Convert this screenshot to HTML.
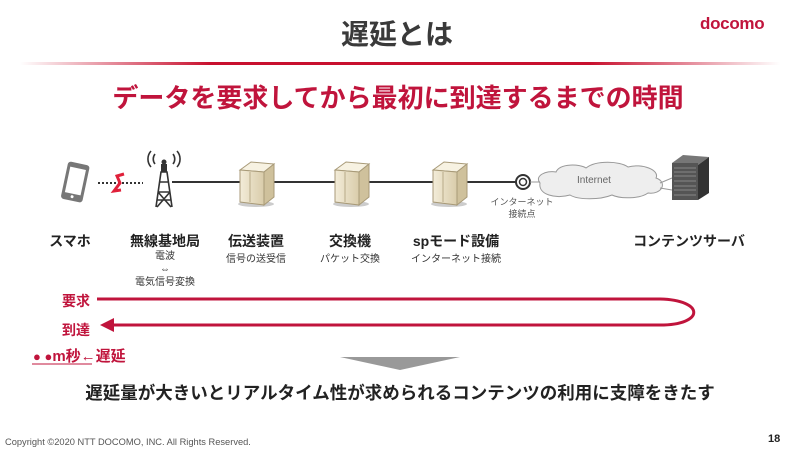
<!DOCTYPE html>
<html><head><meta charset="utf-8"><style>
html,body{margin:0;padding:0;background:#fff;}
body{width:800px;height:449px;overflow:hidden;position:relative;font-family:"Liberation Sans","Noto Sans CJK JP",sans-serif;}
.t{position:absolute;white-space:nowrap;}
.b{font-weight:bold;}
.c{transform:translateX(-50%);text-align:center;}
</style></head><body>
<svg width="800" height="449" style="position:absolute;left:0;top:0">
<defs>
<linearGradient id="g" x1="0" x2="1"><stop offset="0" stop-color="#c8102e" stop-opacity="0"/><stop offset="0.25" stop-color="#c8102e"/><stop offset="0.75" stop-color="#c8102e"/><stop offset="1" stop-color="#c8102e" stop-opacity="0"/></linearGradient>
<linearGradient id="sv" x1="0" x2="1"><stop offset="0" stop-color="#f3ecd9"/><stop offset="1" stop-color="#d9ccaa"/></linearGradient>
</defs>
<rect x="20" y="62" width="760" height="3" fill="url(#g)"/>
<line x1="172" y1="182" x2="516" y2="182" stroke="#333" stroke-width="2"/>
<line x1="98" y1="183" x2="143" y2="183" stroke="#333" stroke-width="2" stroke-dasharray="2,2"/>
<path d="M124 174 L117 176 L120 183 L114 191 L121 190" fill="none" stroke="#e0203a" stroke-width="3"/>
<g transform="rotate(12 75 183)"><rect x="64" y="163" width="22" height="38" rx="3" fill="#777"/><rect x="67" y="168" width="16" height="26" fill="#fff"/><circle cx="75" cy="197" r="1.5" fill="#fff"/></g>
<g stroke="#333" stroke-width="1.6" fill="none">
<path d="M156 207 L161 172 L167 172 L172 207 M158 192 L170 192 M159 182 L169 182 M157 200 L171 200 M158 192 L171 207 M170 192 L157 207"/>
<path d="M155 164 a8 8 0 0 1 0 -10 M173 164 a8 8 0 0 0 0 -10 M151 167 a12 12 0 0 1 0 -16 M177 167 a12 12 0 0 0 0 -16"/>
</g>
<circle cx="164" cy="162" r="2.5" fill="#333"/><rect x="161" y="164" width="6" height="8" fill="#333"/>
<g id="s">
<ellipse cx="256" cy="204" rx="18" ry="3" fill="#ccc"/>
<path d="M240 170 L251 162 L274 164 L264 172 Z" fill="#f7f2e2" stroke="#a89a78"/>
<path d="M240 170 L264 172 L264 205 L240 202 Z" fill="url(#sv)" stroke="#a89a78"/>
<path d="M264 172 L274 164 L274 197 L264 205 Z" fill="#cfc19c" stroke="#a89a78"/>
<line x1="250" y1="172" x2="250" y2="202" stroke="#b8aa88"/>
</g>
<use href="#s" x="95"/><use href="#s" x="193"/>
<circle cx="523" cy="182" r="7" fill="#fff" stroke="#333" stroke-width="2"/><circle cx="523" cy="182" r="3.5" fill="none" stroke="#333" stroke-width="1.5"/>
<path d="M540 183 C534 176 546 170 556 172 C560 163 580 164 586 168 C596 160 620 161 628 167 C642 163 660 170 656 178 C668 182 662 195 648 193 C640 199 620 199 612 195 C600 200 578 200 570 195 C556 199 538 195 540 183 Z" fill="#eee" stroke="#999"/>
<line x1="530" y1="182" x2="540" y2="182" stroke="#999"/><line x1="660" y1="183" x2="672" y2="178" stroke="#999"/><line x1="660" y1="188" x2="672" y2="190" stroke="#999"/>
<path d="M672 163 L683 155 L709 157 L698 165 Z" fill="#777"/>
<rect x="672" y="163" width="26" height="37" fill="#555"/>
<path d="M698 165 L709 157 L709 193 L698 200 Z" fill="#333"/>
<g stroke="#888" stroke-width="1"><line x1="674" y1="168" x2="696" y2="168"/><line x1="674" y1="172" x2="696" y2="172"/><line x1="674" y1="176" x2="696" y2="176"/><line x1="674" y1="181" x2="696" y2="181"/><line x1="674" y1="186" x2="696" y2="186"/><line x1="674" y1="190" x2="696" y2="190"/><line x1="674" y1="195" x2="696" y2="195"/></g>
<path d="M97 299 L660 299 C705 300 705 325 660 325 L112 325" fill="none" stroke="#c0143c" stroke-width="3"/>
<path d="M100 325 L114 318 L114 332 Z" fill="#c0143c"/>
<line x1="32" y1="364" x2="92" y2="364" stroke="#c0143c" stroke-width="1"/>
<path d="M340 357 L460 357 L400 370 Z" fill="#999"/>
</svg>
<div class="t b c" style="left:397px;top:13px;font-size:28px;color:#3a3a3a;">遅延とは</div>
<div class="t b" style="left:700px;top:14px;font-size:17px;color:#c0143c;letter-spacing:-0.3px;">docomo</div>
<div class="t b c" style="left:398px;top:78px;font-size:26px;color:#c0143c;">データを要求してから最初に到達するまでの時間</div>
<div class="t b c" style="left:70px;top:231px;font-size:14px;color:#222;">スマホ</div>
<div class="t b c" style="left:165px;top:231px;font-size:14px;color:#222;">無線基地局</div>
<div class="t c" style="left:165px;top:250px;font-size:10px;line-height:13px;color:#333;">電波<br>⇔<br>電気信号変換</div>
<div class="t b c" style="left:256px;top:231px;font-size:14px;color:#222;">伝送装置</div>
<div class="t c" style="left:256px;top:250px;font-size:10px;color:#333;">信号の送受信</div>
<div class="t b c" style="left:350px;top:231px;font-size:14px;color:#222;">交換機</div>
<div class="t c" style="left:350px;top:250px;font-size:10px;color:#333;">パケット交換</div>
<div class="t b c" style="left:456px;top:231px;font-size:14px;color:#222;">spモード設備</div>
<div class="t c" style="left:456px;top:250px;font-size:10px;color:#333;">インターネット接続</div>
<div class="t b c" style="left:689px;top:231px;font-size:14px;color:#222;">コンテンツサーバ</div>
<div class="t c" style="left:522px;top:196px;font-size:9px;line-height:12px;color:#555;">インターネット<br>接続点</div>
<div class="t" style="left:577px;top:175px;font-size:10px;color:#666;">Internet</div>
<div class="t b" style="left:62px;top:291px;font-size:14px;color:#c0143c;">要求</div>
<div class="t b" style="left:62px;top:320px;font-size:14px;color:#c0143c;">到達</div>
<div class="t b" style="left:33px;top:345px;font-size:15px;color:#c0143c;"><span style="font-size:13px">● ●</span>m秒←遅延</div>
<div class="t b c" style="left:400px;top:380px;font-size:17.5px;color:#222;">遅延量が大きいとリアルタイム性が求められるコンテンツの利用に支障をきたす</div>
<div class="t" style="left:5px;top:437px;font-size:9.3px;color:#555;">Copyright ©2020 NTT DOCOMO, INC. All Rights Reserved.</div>
<div class="t b" style="left:768px;top:433px;font-size:11px;color:#222;">18</div>
</body></html>
